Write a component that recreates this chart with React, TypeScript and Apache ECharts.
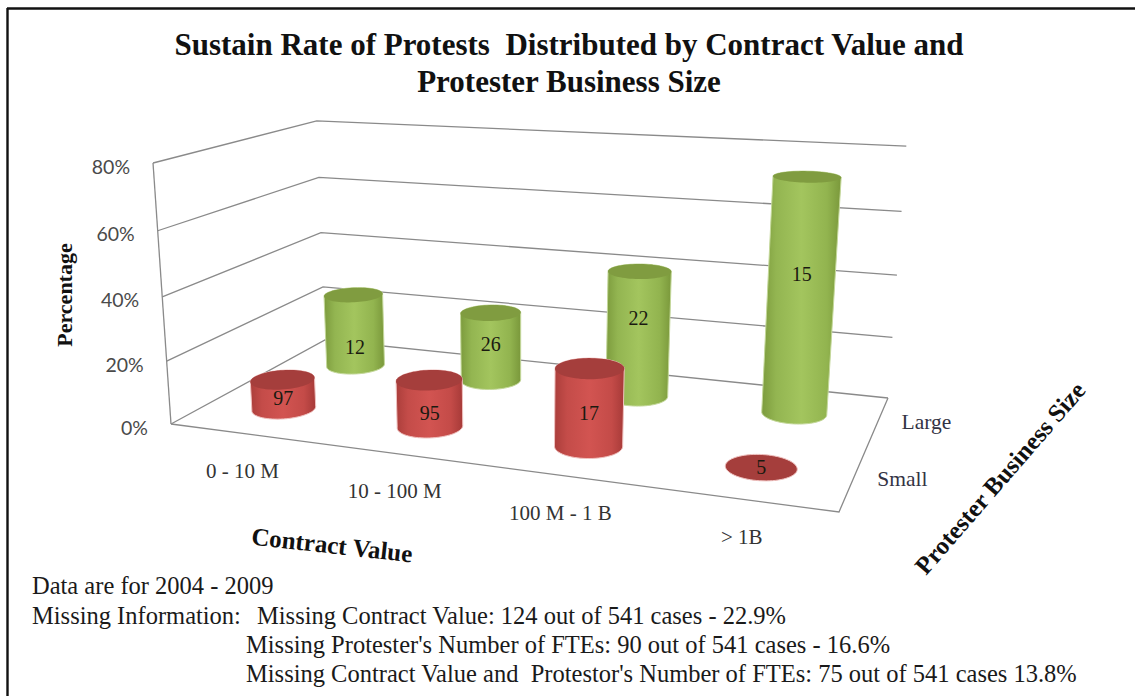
import React, { useEffect, useRef } from "react";
import * as echarts from "echarts";

// ---- data ----
const categories = ["0 - 10 M", "10 - 100 M", "100 M - 1 B", "> 1B"];
const depthLabels = ["Small", "Large"];
const percentTicks = [0, 20, 40, 60, 80];
const smallRates = [9.5, 14.7, 23.5, 0];
const largeRates = [25, 23.1, 40.9, 73.3];
const smallCases = [97, 95, 17, 5];
const largeCases = [12, 26, 22, 15];
const smallLabelAt = [0.62, 0.7, 0.57, 0.5];
const largeLabelAt = [0.74, 0.46, 0.375, 0.41];
const titleText = "Sustain Rate of Protests  Distributed by Contract Value and\nProtester Business Size";
const noteLines: [string, number, number][] = [
  ["Data are for 2004 - 2009", 32, 585],
  ["Missing Information:", 32, 615],
  ["Missing Contract Value: 124 out of 541 cases - 22.9%", 257, 615],
  ["Missing Protester's Number of FTEs: 90 out of 541 cases - 16.6%", 246, 644],
  ["Missing Contract Value and  Protestor's Number of FTEs: 75 out of 541 cases 13.8%", 246, 673],
];

// ---- camera calibration: floor corners and vertical vanishing point ----
const FL = [171, 424], FR = [839, 512], BR = [888, 398], BL = [325, 340];
const VP = [519, 5475];
const TOP_Y_FL = 163;
const R_U = 0.195, R_V = 0.208;

const W = 1135, H = 696;
const dx1 = FR[0] - BR[0], dx2 = BL[0] - BR[0], sx = FL[0] - FR[0] + BR[0] - BL[0];
const dy1 = FR[1] - BR[1], dy2 = BL[1] - BR[1], sy = FL[1] - FR[1] + BR[1] - BL[1];
const det = dx1 * dy2 - dx2 * dy1;
const pg = (sx * dy2 - dx2 * sy) / det, ph = (dx1 * sy - sx * dy1) / det;
const pa = FR[0] - FL[0] + pg * FR[0], pb = BL[0] - FL[0] + ph * BL[0], pc = FL[0];
const pd = FR[1] - FL[1] + pg * FR[1], pe = BL[1] - FL[1] + ph * BL[1], pf = FL[1];
const pk = (TOP_Y_FL - FL[1]) / (VP[1] - TOP_Y_FL);

// u: 0..4 along contract value, v: 0..2 along business size, m: 0..1 of the value axis
function project(u: number, v: number, m: number): [number, number] {
  const s = u / 4, t = v / 2;
  const w = pg * s + ph * t + 1 + pk * m;
  return [
    (pa * s + pb * t + pc + pk * VP[0] * m) / w,
    (pd * s + pe * t + pf + pk * VP[1] * m) / w,
  ];
}

// the hidden axes are the library's scales; they map (category, value) to model space
function toModel(api: any, cat: number, value: number): [number, number] {
  const p = api.coord([cat, value]);
  return [(p[0] / W) * categories.length, 1 - p[1] / H];
}

const gridColor = "#8a8a8a";

function gradient(stops: string[]) {
  return new echarts.graphic.LinearGradient(0, 0, 1, 0,
    stops.map((color, i) => ({ offset: [0, 0.18, 0.5, 0.82, 1][i], color })));
}

function cylinderSeries(name: string, v: number, rates: number[], cases: number[], labelAt: number[],
  body: string[], cap: string, rim: string) {
  return {
    type: "custom",
    name,
    clip: false,
    silent: true,
    coordinateSystem: "cartesian2d",
    data: rates.map((r, i) => [i, r, cases[i], labelAt[i]]),
    renderItem: (_: any, api: any) => {
      const [u, m] = toModel(api, api.value(0), api.value(1));
      const N = 72;
      const base: [number, number][] = [], top: [number, number][] = [];
      for (let i = 0; i < N; i++) {
        const a = (i / N) * Math.PI * 2;
        const cu = u + R_U * Math.cos(a), cv = v + R_V * Math.sin(a);
        base.push(project(cu, cv, 0));
        top.push(project(cu, cv, m));
      }
      let iL = 0, iR = 0;
      base.forEach((p, i) => {
        if (p[0] < base[iL][0]) iL = i;
        if (p[0] > base[iR][0]) iR = i;
      });
      const walk = (from: number, to: number) => {
        const out: number[] = [];
        for (let i = from; ; i = (i + 1) % N) { out.push(i); if (i === to) break; }
        return out;
      };
      const arcA = walk(iL, iR), arcB = walk(iR, iL).reverse();
      const meanY = (a: number[]) => a.reduce((s, i) => s + base[i][1], 0) / a.length;
      const lower = meanY(arcA) > meanY(arcB) ? arcA : arcB;
      const upper = lower === arcA ? arcB : arcA;
      const outline = [...lower.map((i) => base[i]), ...[...upper].reverse().map((i) => top[i])];
      const children: any[] = [];
      if (m > 0.001) {
        children.push({ type: "polygon", shape: { points: outline }, style: { fill: gradient(body), stroke: rim, lineWidth: 1 } });
      }
      children.push({ type: "polygon", shape: { points: top }, style: { fill: cap, stroke: m > 0.001 ? "none" : rim, lineWidth: 1 } });
      const c0 = project(u, v, 0), c1 = project(u, v, m);
      const t = api.value(3);
      children.push({
        type: "text",
        x: c1[0] + (c0[0] - c1[0]) * t,
        y: c1[1] + (c0[1] - c1[1]) * t,
        style: {
          text: String(api.value(2)), textAlign: "center", textVerticalAlign: "middle",
          font: "20px 'Liberation Serif'", fill: "#1a1a10",
        },
      });
      return { type: "group", children };
    },
  };
}

export default function App() {
  const ref = useRef<HTMLDivElement>(null);
  useEffect(() => {
    const chart = echarts.init(ref.current!, null, { renderer: "svg" });
    const wallSeries = {
      type: "custom", name: "Walls", clip: false, silent: true,
      data: percentTicks.map((p) => [0, p]),
      renderItem: (_: any, api: any) => {
        const value = api.value(1);
        const [, m] = toModel(api, 0, value);
        const line = { stroke: gridColor, lineWidth: 1.3, fill: "none" };
        const children: any[] = [
          { type: "polyline", shape: { points: [project(0, 0, m), project(0, 2, m), project(4, 2, m)] }, style: line },
        ];
        const lp = project(0, 0, m);
        children.push({
          type: "text", x: lp[0] - 23, y: lp[1] + 3,
          style: { text: value + "%", textAlign: "right", textVerticalAlign: "middle", font: "19.5px Lato", fill: "#4a4a4a" },
        });
        if (value === 0) {
          children.push(
            { type: "polyline", shape: { points: [project(0, 0, 0), project(4, 0, 0), project(4, 2, 0)] }, style: line },
            { type: "polyline", shape: { points: [project(0, 0, 0), project(0, 0, 1)] }, style: line },
          );
        }
        return { type: "group", children };
      },
    };
    const categorySeries = {
      type: "custom", name: "Contract Value labels", clip: false, silent: true,
      data: categories.map((_, i) => [i, 0]),
      renderItem: (_: any, api: any) => {
        const i = api.value(0);
        const [u] = toModel(api, i, 0);
        const p = project(u, 0, 0);
        return {
          type: "text", x: p[0], y: p[1] + 38,
          style: { text: categories[i], textAlign: "center", textVerticalAlign: "middle", font: "21px 'Liberation Serif'", fill: "#333" },
        };
      },
    };
    const depthSeries = {
      type: "custom", name: "Business size labels", clip: false, silent: true,
      data: depthLabels.map((_, i) => [0, i]),
      renderItem: (_: any, api: any) => {
        const i = api.value(1);
        const p = project(4, i + 0.5, 0);
        return {
          type: "text", x: p[0] + 24, y: p[1],
          style: { text: depthLabels[i], textAlign: "left", textVerticalAlign: "middle", font: "21.5px 'Liberation Serif'", fill: "#333344" },
        };
      },
    };
    chart.setOption({
      animation: false,
      backgroundColor: "#fff",
      title: {
        text: titleText, left: 564, top: 21, textAlign: "center",
        textStyle: { fontFamily: "Liberation Serif", fontWeight: "bold", fontSize: 31, lineHeight: 37, color: "#111" },
      },
      grid: { left: 0, right: 0, top: 0, bottom: 0 },
      xAxis: { type: "category", data: categories, show: false },
      yAxis: { type: "value", min: 0, max: 80, interval: 20, show: false },
      series: [
        wallSeries,
        cylinderSeries("Large", 1.5, largeRates, largeCases, largeLabelAt,
          ["#7c9b3d", "#93b551", "#a3c55e", "#92b44f", "#7a983b"], "#809c40", "#c4d89a"),
        cylinderSeries("Small", 0.5, smallRates, smallCases, smallLabelAt,
          ["#ab3e3b", "#c44c49", "#d25451", "#c44b48", "#a63a38"], "#a53e3c", "#f0c2c0"),
        categorySeries,
        depthSeries,
      ],
      graphic: [
        { type: "line", shape: { x1: 7.5, y1: 8, x2: 7.5, y2: 696 }, style: { stroke: "#111", lineWidth: 2.4 } },
        { type: "line", shape: { x1: 7, y1: 8.5, x2: 1135, y2: 8.5 }, style: { stroke: "#111", lineWidth: 2.4 } },
        {
          type: "text", x: 64, y: 295, rotation: Math.PI / 2,
          style: { text: "Percentage", textAlign: "center", textVerticalAlign: "middle", font: "bold 22px 'Liberation Serif'", fill: "#111" },
        },
        {
          type: "text", x: 332, y: 545, rotation: -0.11,
          style: { text: "Contract Value", textAlign: "center", textVerticalAlign: "middle", font: "bold 25px 'Liberation Serif'", fill: "#111" },
        },
        {
          type: "text", x: 1000, y: 478, rotation: 0.855,
          style: { text: "Protester Business Size", textAlign: "center", textVerticalAlign: "middle", font: "bold 25px 'Liberation Serif'", fill: "#111" },
        },
        ...noteLines.map(([text, x, y]) => ({
          type: "text", x, y,
          style: { text, textAlign: "left", textVerticalAlign: "middle", font: "24.5px 'Liberation Serif'", fill: "#1a1a1a" },
        })),
      ],
    });
    return () => chart.dispose();
  }, []);
  return <div ref={ref} style={{ position: "fixed", left: 0, top: 0, width: W, height: H }} />;
}
